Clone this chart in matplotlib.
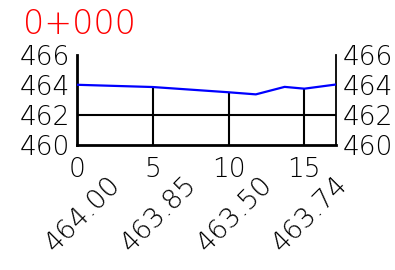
import matplotlib
matplotlib.use("Agg")
import matplotlib.pyplot as plt

# profile points (station, elevation)
profile_x = [0, 5, 10, 11.8, 13.7, 15, 17.1]
profile_y = [464.00, 463.85, 463.50, 463.36, 463.86, 463.74, 464.02]

# labelled stations
stations = [0, 5, 10, 15]
elev_labels = ["464.00", "463.85", "463.50", "463.74"]
elevs = [464.00, 463.85, 463.50, 463.74]

yticks = [460, 462, 464, 466]
title = "0+000"

plt.rcParams["font.family"] = ["DejaVu Sans"]
plt.rcParams["font.weight"] = 200

fig = plt.figure(figsize=(3.95, 2.70), dpi=100)
ax = fig.add_axes([0.195, 0.464, 0.656, 0.333])

ax.plot(profile_x, profile_y, color="#0000ff", lw=1.6, zorder=3)
ax.vlines(stations[1:], 460, elevs[1:], color="black", lw=1.5)
ax.axhline(462, color="black", lw=1.5)

ax.set_xlim(0, 17.1)
ax.set_ylim(460, 466)
ax.set_xticks(stations)
ax.set_yticks(yticks)
ax.tick_params(length=0, labelsize=19, pad=5)
ax.tick_params(axis="x", pad=9)
ax.tick_params(axis="y", right=True, labelright=True)

ax.spines["top"].set_visible(False)
ax.spines["left"].set_linewidth(2)
ax.spines["right"].set_linewidth(1.3)
ax.spines["bottom"].set_linewidth(2)

for s, lab in zip(stations, elev_labels):
    ax.text(s + 3.2, 458.2, lab, rotation=45, ha="right", va="top",
            fontsize=19.5, clip_on=False)

fig.text(0.058, 0.97, title, color="red", fontsize=24, ha="left", va="top")

fig.savefig("out.png", dpi=100)
